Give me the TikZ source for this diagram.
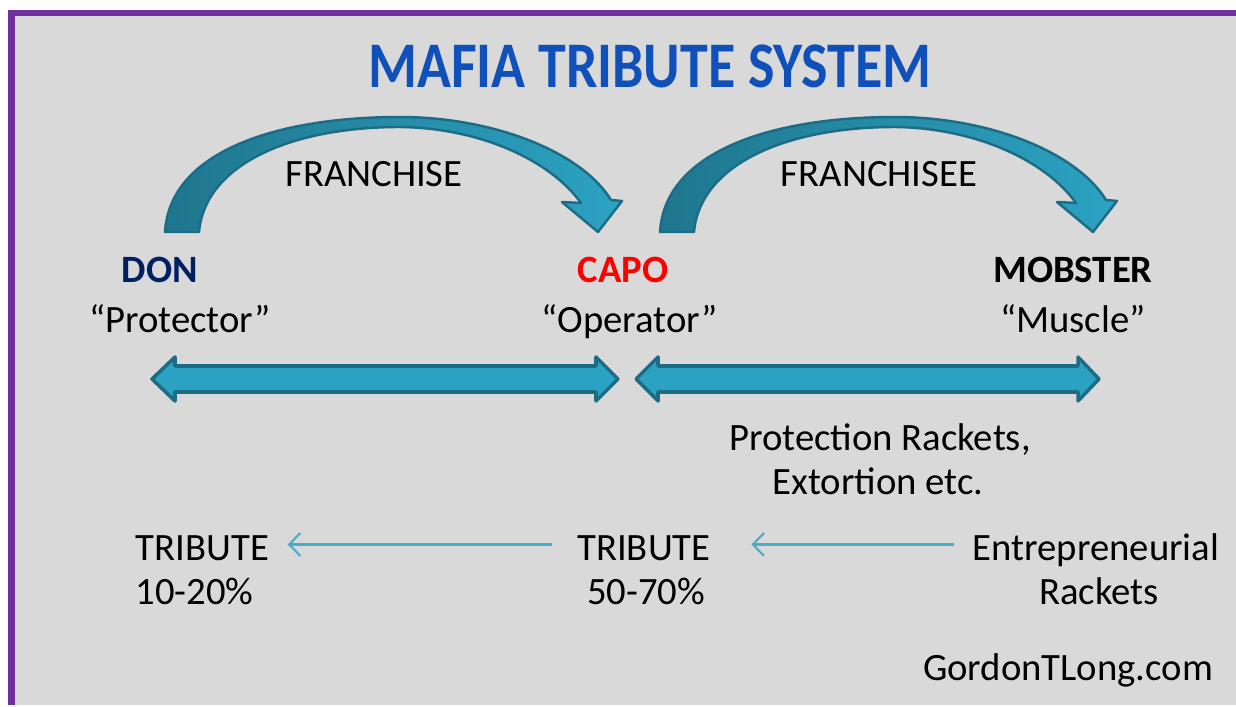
\documentclass[tikz,border=0pt]{standalone}
\usepackage{fontspec}
\setmainfont{Carlito}
\usepackage{tikz}
\usetikzlibrary{positioning,calc,arrows.meta}

\definecolor{panelgray}{RGB}{217,217,217}
\definecolor{framepurple}{RGB}{112,48,160}
\definecolor{teallight}{RGB}{44,162,194}
\definecolor{tealmid}{RGB}{31,118,142}
\definecolor{tealdark}{RGB}{29,108,133}
\definecolor{flowline}{RGB}{75,172,198}
\definecolor{donblue}{RGB}{0,32,96}
\definecolor{titleblue}{RGB}{16,80,186}

\tikzset{
  txt/.style={font=\fontsize{11}{13}\selectfont, inner sep=0pt, text height=7.1pt, text depth=0pt},
  rolename/.style={txt, font=\fontsize{11}{13}\selectfont\bfseries},
  bentarrow/.style={left color=tealmid, right color=teallight, draw=tealdark, line width=0.7pt, line join=round},
  flatarrow/.style={fill=teallight, draw=tealdark, line width=1pt, line join=round},
  tributeflow/.style={flowline, line width=0.6pt, -{Straight Barb[length=3.2pt,width=6.5pt]}}
}

\begin{document}
\begin{tikzpicture}[x=0.01cm,y=-0.01cm]
  \useasboundingbox (0,0) rectangle (1236,707);
  \fill[white] (0,0) rectangle (1236,707);
  \fill[panelgray] (11,13) rectangle (1236,705);
  \draw[framepurple, line width=1.8pt] (11.5,705) -- (11.5,13) -- (1236,13);

  \node[font=\fontsize{18.5}{22}\selectfont\bfseries, text=titleblue, inner sep=0pt, xscale=0.86] (title) at (650,66) {MAFIA TRIBUTE SYSTEM};

  % bent arrows over the top
  \draw[bentarrow] (165,232) .. controls (170,150) and (280,117) .. (400,117)
    .. controls (490,117) and (580,150) .. (611,200) -- (622,201) -- (598,232) -- (562,202) -- (581,203)
    .. controls (550,160) and (480,128) .. (400,127)
    .. controls (290,127) and (205,165) .. (199,232) -- cycle;
  \draw[bentarrow, shift={(495,0)}] (165,232) .. controls (170,150) and (280,117) .. (400,117)
    .. controls (490,117) and (580,150) .. (611,200) -- (622,201) -- (598,232) -- (562,202) -- (581,203)
    .. controls (550,160) and (480,128) .. (400,127)
    .. controls (290,127) and (205,165) .. (199,232) -- cycle;

  \node[txt] (franchise) at (374,174) {FRANCHISE};
  \node[txt] (franchisee) at (879,174) {FRANCHISEE};

  \node[rolename, text=donblue] (don) at (160,270) {DON};
  \node[txt] (protector) at (180,320) {“Protector”};
  \node[rolename, text=red] (capo) at (623,270) {CAPO};
  \node[txt] (operator) at (630,320) {“Operator”};
  \node[rolename] (mobster) at (1073,270) {MOBSTER};
  \node[txt] (muscle) at (1073,320) {“Muscle”};

  % double arrows
  \draw[flatarrow] (152,379) -- (175,357) -- (175,366) -- (596,366) -- (596,357) -- (618,379)
    -- (596,401) -- (596,392) -- (175,392) -- (175,401) -- cycle;
  \draw[flatarrow] (636,379) -- (658,357) -- (658,366) -- (1078,366) -- (1078,357) -- (1099,379)
    -- (1078,401) -- (1078,392) -- (658,392) -- (658,401) -- cycle;

  \node[txt] (protection) at (880,438) {Protection Rackets,};
  \node[txt] (extortion) at (878,482) {Extortion etc.};

  \node[txt, anchor=west] (trib1) at (135,548) {TRIBUTE};
  \node[txt, anchor=west] (pct1) at (135,592) {10-20\%};
  \node[txt] (trib2) at (644,548) {TRIBUTE};
  \node[txt] (pct2) at (646,592) {50-70\%};
  \node[txt] (entre) at (1096,548) {Entrepreneurial};
  \node[txt] (rackets) at (1099,592) {Rackets};

  \draw[tributeflow] ([yshift=1pt,xshift=-0.25cm]trib2.west) -- ([yshift=1pt,xshift=0.18cm]trib1.east);
  \draw[tributeflow] ([yshift=1pt,xshift=-0.18cm]entre.west) -- ([yshift=1pt,xshift=0.40cm]trib2.east);

  \node[txt] (site) at (1068,668) {GordonTLong.com};
\end{tikzpicture}
\end{document}
